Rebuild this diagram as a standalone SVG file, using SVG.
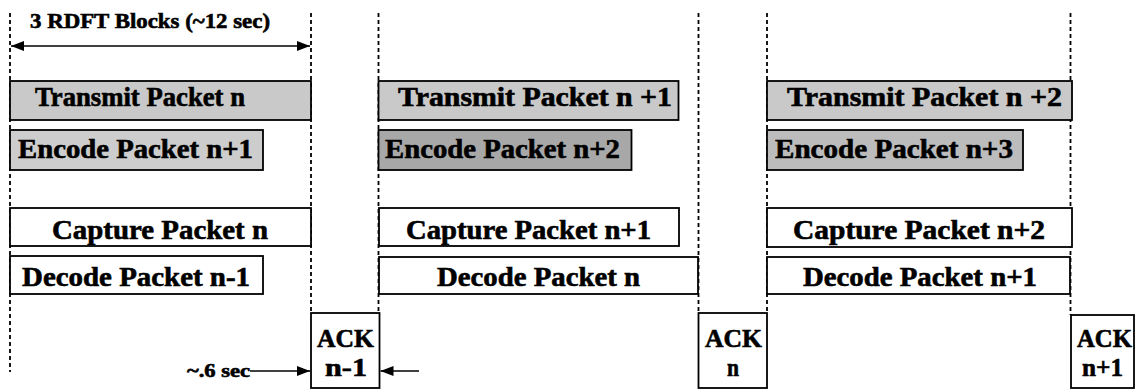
<svg xmlns="http://www.w3.org/2000/svg" width="1135" height="390" viewBox="0 0 1135 390">
<defs>
<style>
.t{font-family:"Liberation Serif","Times New Roman",serif;font-weight:bold;fill:#000;stroke:#000;stroke-width:0.6;}
.big{font-size:27px;}
.ack{font-size:25px;}
.box{stroke:#000;stroke-width:1.8;fill:#fff;}
.tx{fill:#c9c9c9;}
.e1{fill:#cdcdcd;}
.e2{fill:#a8a8a8;}
.e3{fill:#bcbcbc;}
.guide{stroke:#000;stroke-width:1.8;stroke-dasharray:4 3;fill:none;}
.conn{stroke:#000;stroke-width:1.5;fill:none;}
</style>
<marker id="ah" viewBox="0 0 13 10" refX="13" refY="5" markerWidth="13" markerHeight="10" markerUnits="userSpaceOnUse" orient="auto-start-reverse">
<path d="M0,0 L13,5 L0,10 Z" fill="#000"/>
</marker>
</defs>
<rect width="1135" height="390" fill="#fff"/>

<g id="guides">
<line class="guide" x1="10" y1="13" x2="10" y2="372"/>
<line class="guide" x1="311" y1="13" x2="311" y2="313"/>
<line class="guide" x1="378.5" y1="13" x2="378.5" y2="313"/>
<line class="guide" x1="698.5" y1="13" x2="698.5" y2="313"/>
<line class="guide" x1="767" y1="13" x2="767" y2="313"/>
<line class="guide" x1="1070.5" y1="13" x2="1070.5" y2="315"/>
</g>

<g id="header">
<text class="t" x="30" y="28" font-size="21" textLength="240" lengthAdjust="spacingAndGlyphs">3 RDFT Blocks (~12 sec)</text>
</g>

<g id="transmit-n">
<rect class="box tx" x="10" y="81" width="301" height="39"/>
<text class="t big" x="35" y="106" textLength="210" lengthAdjust="spacingAndGlyphs">Transmit Packet n</text>
</g>
<g id="transmit-n1">
<rect class="box tx" x="378.5" y="81" width="300" height="39"/>
<text class="t big" x="398" y="106" textLength="274" lengthAdjust="spacingAndGlyphs">Transmit Packet n +1</text>
</g>
<g id="transmit-n2">
<rect class="box tx" x="767" y="81" width="305" height="39"/>
<text class="t big" x="787" y="106" textLength="275" lengthAdjust="spacingAndGlyphs">Transmit Packet n +2</text>
</g>

<g id="encode-n1">
<rect class="box e1" x="10" y="130" width="253" height="40"/>
<text class="t big" x="18" y="158" textLength="235" lengthAdjust="spacingAndGlyphs">Encode Packet n+1</text>
</g>
<g id="encode-n2">
<rect class="box e2" x="378.5" y="130" width="253" height="40"/>
<text class="t big" x="385" y="158" textLength="235" lengthAdjust="spacingAndGlyphs">Encode Packet n+2</text>
</g>
<g id="encode-n3">
<rect class="box e3" x="767" y="130" width="256" height="40"/>
<text class="t big" x="775" y="158" textLength="238" lengthAdjust="spacingAndGlyphs">Encode Packet n+3</text>
</g>

<g id="capture-n">
<rect class="box" x="10" y="208" width="301" height="38"/>
<text class="t big" x="52" y="239" textLength="216" lengthAdjust="spacingAndGlyphs">Capture Packet n</text>
</g>
<g id="capture-n1">
<rect class="box" x="379" y="208" width="300" height="38"/>
<text class="t big" x="406" y="239" textLength="245" lengthAdjust="spacingAndGlyphs">Capture Packet n+1</text>
</g>
<g id="capture-n2">
<rect class="box" x="767" y="208" width="305" height="39"/>
<text class="t big" x="793" y="239" textLength="252" lengthAdjust="spacingAndGlyphs">Capture Packet n+2</text>
</g>

<g id="decode-n-1">
<rect class="box" x="10" y="256" width="253" height="38"/>
<text class="t big" x="22" y="286" textLength="228" lengthAdjust="spacingAndGlyphs">Decode Packet n-1</text>
</g>
<g id="decode-n">
<rect class="box" x="379" y="257" width="319" height="37"/>
<text class="t big" x="437" y="286" textLength="203" lengthAdjust="spacingAndGlyphs">Decode Packet n</text>
</g>
<g id="decode-n1">
<rect class="box" x="767" y="257" width="303" height="37"/>
<text class="t big" x="803" y="286" textLength="234" lengthAdjust="spacingAndGlyphs">Decode Packet n+1</text>
</g>

<g id="ack-n-1">
<rect class="box" x="311" y="313" width="68.5" height="75"/>
<text class="t ack" x="317" y="347" textLength="57" lengthAdjust="spacingAndGlyphs">ACK</text>
<text class="t ack" x="325" y="376" textLength="42" lengthAdjust="spacingAndGlyphs">n-1</text>
</g>
<g id="ack-n">
<rect class="box" x="698.5" y="313" width="68.5" height="75"/>
<text class="t ack" x="705" y="347" textLength="57" lengthAdjust="spacingAndGlyphs">ACK</text>
<text class="t ack" x="727" y="376" textLength="12" lengthAdjust="spacingAndGlyphs">n</text>
</g>
<g id="ack-n1">
<rect class="box" x="1071" y="315" width="63" height="73"/>
<text class="t ack" x="1077" y="347" textLength="55" lengthAdjust="spacingAndGlyphs">ACK</text>
<text class="t ack" x="1082" y="376" textLength="41" lengthAdjust="spacingAndGlyphs">n+1</text>
</g>

<g id="label-06">
<text class="t" x="187" y="377" font-size="18" textLength="63" lengthAdjust="spacingAndGlyphs">~.6 sec</text>
</g>

<g id="connectors">
<line class="conn" x1="11" y1="46" x2="310" y2="46" marker-start="url(#ah)" marker-end="url(#ah)"/>
<line class="conn" x1="250" y1="371" x2="310" y2="371" marker-end="url(#ah)"/>
<line class="conn" x1="419" y1="371" x2="380.5" y2="371" marker-end="url(#ah)"/>
</g>
</svg>
